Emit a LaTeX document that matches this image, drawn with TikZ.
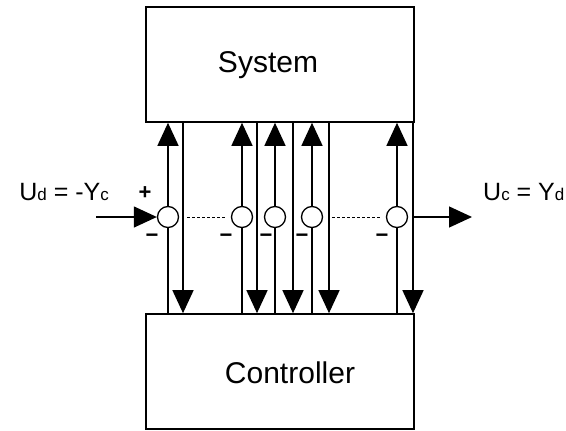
\documentclass[tikz,border=0pt]{standalone}
\usepackage{fontspec}
\setmainfont{Liberation Sans}
\usetikzlibrary{arrows.meta}

\newcommand{\bigtxt}{\fontsize{30}{30}\selectfont}
\newcommand{\iotxt}{\fontsize{25}{25}\selectfont}
\newcommand{\subtxt}[1]{{\fontsize{17}{17}\selectfont #1}}

\begin{document}
\begin{tikzpicture}[x=1pt,y=-1pt,
    block/.style={draw,line width=1.6pt,minimum width=268pt,minimum height=115pt,inner sep=0pt},
    junction/.style={draw,circle,line width=1.3pt,minimum size=21pt,inner sep=0pt,fill=white},
    wire/.style={line width=1.3pt},
    sig/.style={line width=1.3pt,-{Triangle[width=21pt,length=23pt]}},
    sign/.style={font=\fontsize{22}{22}\selectfont\bfseries,inner sep=0pt}]

             \useasboundingbox (0,0) rectangle (566,431);

             \node[block] (System) at (280,64.5) {};
             \node[font=\bigtxt] (SystemText) at (268,65) {System};
             \node[block] (Controller) at (280,371.5) {};
             \node[font=\bigtxt] (ControllerText) at (290,373) {Controller};

             \node[junction] (s1) at (168,217) {};
             \node[junction] (s2) at (242,217) {};
             \node[junction] (s3) at (275,217) {};
             \node[junction] (s4) at (312,217) {};
             \node[junction] (s5) at (397,217) {};

             \coordinate (d1) at (183,217);
             \coordinate (d2) at (257,217);
             \coordinate (d3) at (293,217);
             \coordinate (d4) at (329,217);
             \coordinate (d5) at (413,217);

             \coordinate (in) at (96,217);
             \coordinate (out) at (472,217);

             \node[font=\iotxt,anchor=east,inner sep=0pt] (Ud) at (109,192) {U\subtxt{d} = -Y\subtxt{c}};
             \node[font=\iotxt,anchor=west,inner sep=0pt] (Uc) at (483,192) {U\subtxt{c} = Y\subtxt{d}};

             \node[sign] (p1) at (145,193) {+};
             \node[sign] (m1) at (152,238) {−};
             \node[sign] (m2) at (226,238) {−};
             \node[sign] (m3) at (266,238) {−};
             \node[sign] (m4) at (302,238) {−};
             \node[sign] (m5) at (382,238) {−};

             \draw [wire] (s1 |- Controller.north) -- (s1.south);
             \draw [sig] (s1.north) -- (s1 |- System.south);
             \draw [wire] (s2 |- Controller.north) -- (s2.south);
             \draw [sig] (s2.north) -- (s2 |- System.south);
             \draw [wire] (s3 |- Controller.north) -- (s3.south);
             \draw [sig] (s3.north) -- (s3 |- System.south);
             \draw [wire] (s4 |- Controller.north) -- (s4.south);
             \draw [sig] (s4.north) -- (s4 |- System.south);
             \draw [wire] (s5 |- Controller.north) -- (s5.south);
             \draw [sig] (s5.north) -- (s5 |- System.south);

             \draw [sig] (d1 |- System.south) -- (d1 |- Controller.north);
             \draw [sig] (d2 |- System.south) -- (d2 |- Controller.north);
             \draw [sig] (d3 |- System.south) -- (d3 |- Controller.north);
             \draw [sig] (d4 |- System.south) -- (d4 |- Controller.north);
             \draw [sig] (d5 |- System.south) -- (d5 |- Controller.north);

             \draw [sig] (in) -- (s1.west);
             \draw [sig] (d5) -- (out);

             \draw [line width=0.8pt,dash pattern=on 3pt off 2pt] ([xshift=4pt]d1) -- ([xshift=-4pt]s2.west);
             \draw [line width=0.8pt,dash pattern=on 3pt off 2pt] ([xshift=3pt]d4) -- ([xshift=-4pt]s5.west);

\end{tikzpicture}
\end{document}
